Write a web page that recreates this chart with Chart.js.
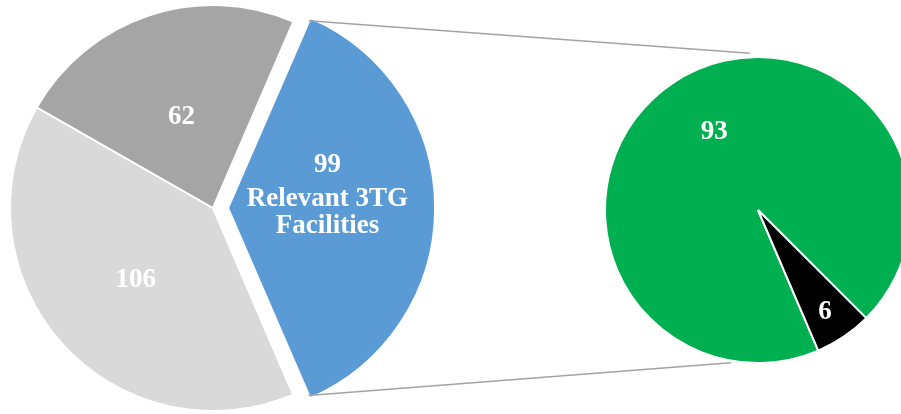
<!DOCTYPE html>
<html>
<head>
<meta charset="utf-8">
<script src="https://cdn.jsdelivr.net/npm/chart.js@4.4.1/dist/chart.umd.min.js"></script>
<style>
  html, body { margin: 0; padding: 0; background: #fff; }
  #wrap { position: relative; width: 901px; height: 414px; overflow: hidden; }
  #wrap canvas { position: absolute; left: 0; top: 0; }
</style>
</head>
<body>
<div id="wrap">
  <canvas id="main-pie" width="901" height="414"></canvas>
  <canvas id="sub-pie" width="901" height="414"></canvas>
</div>
<script>
// main pie (the blue slice is split out in the small pie)
const mainCategories = ['Relevant 3TG Facilities', 'Group B', 'Group C'];
const mainValues = [99, 106, 62];
const mainExtraText = [['Relevant 3TG', 'Facilities'], [], []];

// breakdown of the relevant facilities
const subCategories = ['Group A1', 'Group A2'];
const subValues = [93, 6];

const mainColors = ['#5b9bd5', '#d9d9d9', '#a5a5a5'];
const subColors = ['#00b050', '#000000'];

const LABEL_FONT = 'bold 27px "Liberation Serif", "Times New Roman", serif';

// white value labels inside the slices
function sliceLabels(cfg) {
    return {
        id: 'sliceLabels',
        afterDatasetsDraw(chart) {
            const ctx = chart.ctx;
            const ds = chart.data.datasets[0];
            ctx.save();
            ctx.font = LABEL_FONT;
            ctx.fillStyle = '#fff';
            ctx.textAlign = 'center';
            ctx.textBaseline = 'alphabetic';
            chart.getDatasetMeta(0).data.forEach((arc, i) => {
                const half = (arc.startAngle + arc.endAngle) / 2;
                const ang = half + (cfg.nudge[i] || 0) * Math.PI / 180;
                const push = (arc.options.offset || 0) / 4;
                const dist = arc.outerRadius * cfg.radius[i];
                const x = arc.x + Math.cos(half) * push + Math.cos(ang) * dist;
                const y = arc.y + Math.sin(half) * push + Math.sin(ang) * dist;
                const lines = [String(ds.data[i])].concat(cfg.extra[i] || []);
                const offs = cfg.lineY[i] || [10];
                lines.forEach((t, k) => ctx.fillText(t, x, y + offs[k]));
            });
            ctx.restore();
        }
    };
}

let mainChart = new Chart(document.getElementById('main-pie'), {
    type: 'pie',
    data: {
        labels: mainCategories,
        datasets: [{
            data: mainValues,
            backgroundColor: mainColors,
            borderColor: '#fff',
            borderWidth: 2,
            offset: [60, 0, 0],
            clip: false,
        }],
    },
    options: {
        responsive: false,
        animation: false,
        events: [],
        rotation: 23.3,
        radius: 203,
        layout: { padding: { left: 0, right: 475, top: 2, bottom: 0 } },
        plugins: {
            legend: { display: false },
            tooltip: { enabled: false },
        },
    },
    plugins: [sliceLabels({
        radius: [0.49, 0.51, 0.49],
        nudge: [0, 0, 0],
        extra: mainExtraText,
        lineY: [[-36, -2, 25], [10], [10]],
    })],
});

// grey lines from the exploded slice to the small pie
const connectors = {
    id: 'connectors',
    afterDraw(chart) {
        const arc = mainChart.getDatasetMeta(0).data[0];
        const sub = chart.getDatasetMeta(0).data[0];
        const half = (arc.startAngle + arc.endAngle) / 2;
        const push = arc.options.offset / 4;
        const ox = arc.x + Math.cos(half) * push;
        const oy = arc.y + Math.sin(half) * push;
        const R = arc.outerRadius + 1;
        const r = sub.outerRadius;
        const top = -93 * Math.PI / 180;
        const bot = 100 * Math.PI / 180;
        const ctx = chart.ctx;
        ctx.save();
        ctx.strokeStyle = '#a3a3a3';
        ctx.lineWidth = 1.5;
        ctx.beginPath();
        ctx.moveTo(ox + Math.cos(arc.startAngle) * R, oy + Math.sin(arc.startAngle) * R);
        ctx.lineTo(sub.x + Math.cos(top) * (r + 4), sub.y + Math.sin(top) * (r + 4));
        ctx.moveTo(ox + Math.cos(arc.endAngle) * R, oy + Math.sin(arc.endAngle) * R);
        ctx.lineTo(sub.x + Math.cos(bot) * (r + 2), sub.y + Math.sin(bot) * (r + 2));
        ctx.stroke();
        ctx.restore();
    }
};

new Chart(document.getElementById('sub-pie'), {
    type: 'pie',
    data: {
        labels: subCategories,
        datasets: [{
            data: subValues,
            backgroundColor: subColors,
            borderColor: '#fff',
            borderWidth: 2,
            clip: false,
        }],
    },
    options: {
        responsive: false,
        animation: false,
        events: [],
        rotation: 156.8,
        radius: 153,
        layout: { padding: { left: 615, right: 0, top: 6, bottom: 0 } },
        plugins: {
            legend: { display: false },
            tooltip: { enabled: false },
        },
    },
    plugins: [connectors, sliceLabels({
        radius: [0.6, 0.78],
        nudge: [5.7, 0],
        extra: [[], []],
        lineY: [[10], [10]],
    })],
});
</script>
</body>
</html>
